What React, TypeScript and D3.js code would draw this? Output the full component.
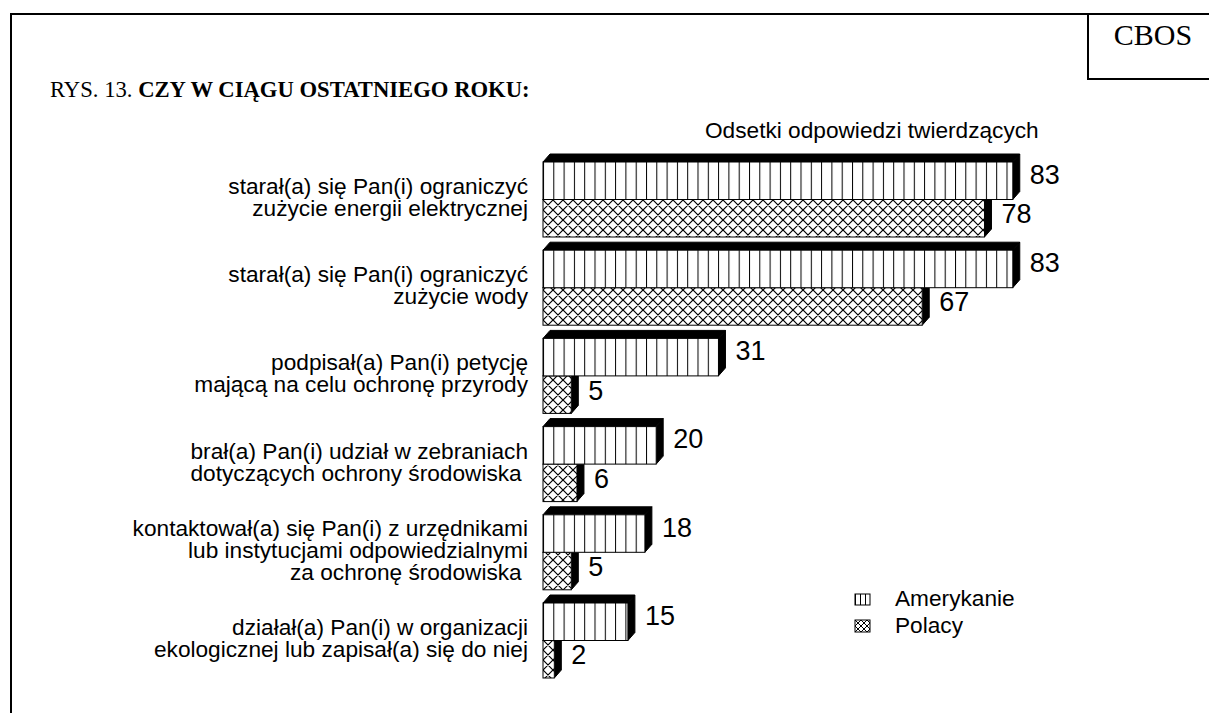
import React from "react";
import * as d3 from "d3";

const categories: string[][] = [
  ["starał(a) się Pan(i) ograniczyć", "zużycie energii elektrycznej"],
  ["starał(a) się Pan(i) ograniczyć", "zużycie wody"],
  ["podpisał(a) Pan(i) petycję", "mającą na celu ochronę przyrody"],
  ["brał(a) Pan(i) udział w zebraniach", "dotyczących ochrony środowiska "],
  ["kontaktował(a) się Pan(i) z urzędnikami", "lub instytucjami odpowiedzialnymi", "za ochronę środowiska "],
  ["działał(a) Pan(i) w organizacji", "ekologicznej lub zapisał(a) się do niej"],
];
const amerykanie: number[] = [83, 83, 31, 20, 18, 15];
const polacy: number[] = [78, 67, 5, 6, 5, 2];
const seriesNames: string[] = ["Amerykanie", "Polacy"];
const titleNormal = "RYS. 13. ";
const titleBold = "CZY W CIĄGU OSTATNIEGO ROKU:";
const subtitle = "Odsetki odpowiedzi twierdzących";
const source = "CBOS";

const W = 1209;
const H = 713;
const DX = 7;
const DY = 8;
const SANS = "Arial, 'Liberation Sans', sans-serif";
const SERIF = "'Times New Roman', 'Liberation Serif', serif";
const FS = 22.67;

export default function App() {
  const x = d3.scaleLinear().domain([0, 100]).range([543, 543 + 566]);
  const ids = categories.map((_, i) => String(i));
  const y = d3
    .scaleBand<string>()
    .domain(ids)
    .range([162, 162 + 6 * 88.2 - 13.2])
    .paddingInner(13.2 / 88.2)
    .paddingOuter(0);
  const bh = y.bandwidth() / 2;

  const bar3d = (x0: number, x1: number, top: number, h: number, fill: string, key: string) => {
    const top1 = top - DY;
    const topFace = `M${x0},${top} L${x0 + DX},${top1} L${x1 + DX},${top1} L${x1},${top} Z`;
    const sideFace = `M${x1},${top} L${x1 + DX},${top1} L${x1 + DX},${top + h - DY} L${x1},${top + h} Z`;
    return (
      <g key={key}>
        <path d={topFace} fill="#000" stroke="#000" strokeWidth={1} />
        <path d={sideFace} fill="#000" stroke="#000" strokeWidth={1} />
        <rect x={x0} y={top} width={x1 - x0} height={h} fill="#fff" />
        <rect x={x0} y={top} width={x1 - x0} height={h} fill={fill} stroke="#000" strokeWidth={1} />
      </g>
    );
  };

  return (
    <svg
      width={W}
      height={H}
      style={{ position: "absolute", left: 0, top: 0, background: "#fff" }}
      xmlns="http://www.w3.org/2000/svg"
    >
      <defs>
        <pattern id="vstripe" patternUnits="userSpaceOnUse" x={543} y={0} width={10.3} height={10}>
          <rect width={10.3} height={10} fill="#fff" />
          <line x1={0.5} y1={0} x2={0.5} y2={10} stroke="#000" strokeWidth={1} />
        </pattern>
        <pattern id="cross" patternUnits="userSpaceOnUse" x={543} y={0} width={10} height={10}>
          <rect width={10} height={10} fill="#fff" />
          <path d="M0,0 L10,10 M10,0 L0,10 M-1,9 L1,11 M9,-1 L11,1 M-1,1 L1,-1 M9,11 L11,9" stroke="#000" strokeWidth={1.2} />
        </pattern>
        <pattern id="vstripeL" patternUnits="userSpaceOnUse" x={855} y={0} width={5} height={10}>
          <rect width={5} height={10} fill="#fff" />
          <line x1={0.5} y1={0} x2={0.5} y2={10} stroke="#000" strokeWidth={1} />
        </pattern>
        <pattern id="crossL" patternUnits="userSpaceOnUse" x={855} y={620} width={6} height={6}>
          <rect width={6} height={6} fill="#fff" />
          <path d="M0,0 L6,6 M6,0 L0,6" stroke="#000" strokeWidth={1} />
        </pattern>
      </defs>
      <rect x={0} y={0} width={W} height={H} fill="#fff" />
      {/* outer frame */}
      <path d={`M11,${H + 5} L11,14 L${W + 5},14`} fill="none" stroke="#000" strokeWidth={2} />
      {/* CBOS box */}
      <path d={`M${W + 5},79 L1088,79 L1088,14`} fill="none" stroke="#000" strokeWidth={2} />
      <text x={1153} y={45} textAnchor="middle" fontFamily={SERIF} fontSize={30}>
        {source}
      </text>
      <text x={50} y={97} fontFamily={SERIF} fontSize={FS}>
        {titleNormal}
        <tspan fontWeight="bold">{titleBold}</tspan>
      </text>
      <text x={705} y={138} fontFamily={SANS} fontSize={FS}>
        {subtitle}
      </text>

      {ids.map((id, i) => {
        const top = y(id)!;
        const x0 = x(0);
        const n = categories[i].length;
        return (
          <g key={id}>
            {bar3d(x0, x(polacy[i]), top + bh, bh, "url(#cross)", "p" + i)}
            {bar3d(x0, x(amerykanie[i]), top, bh, "url(#vstripe)", "a" + i)}
            <text x={x(amerykanie[i]) + DX + 10} y={top + bh / 2 + 3} fontFamily={SANS} fontSize={27}>
              {amerykanie[i]}
            </text>
            <text x={x(polacy[i]) + DX + 10} y={top + bh + bh / 2 + 5} fontFamily={SANS} fontSize={27}>
              {polacy[i]}
            </text>
            {categories[i].map((line, j) => (
              <text
                key={j}
                x={528}
                y={top + bh + (j - (n - 1) / 2) * 22 + 5.5}
                textAnchor="end"
                fontFamily={SANS}
                fontSize={FS}
                style={{ whiteSpace: "pre" }}
              >
                {line}
              </text>
            ))}
          </g>
        );
      })}

      {/* legend */}
      <rect x={855} y={594} width={15} height={11} fill="url(#vstripeL)" stroke="#000" strokeWidth={1} />
      <text x={895} y={606} fontFamily={SANS} fontSize={FS}>
        {seriesNames[0]}
      </text>
      <rect x={855} y={620} width={15} height={12} fill="url(#crossL)" stroke="#000" strokeWidth={1} />
      <text x={895} y={633} fontFamily={SANS} fontSize={FS}>
        {seriesNames[1]}
      </text>
    </svg>
  );
}
